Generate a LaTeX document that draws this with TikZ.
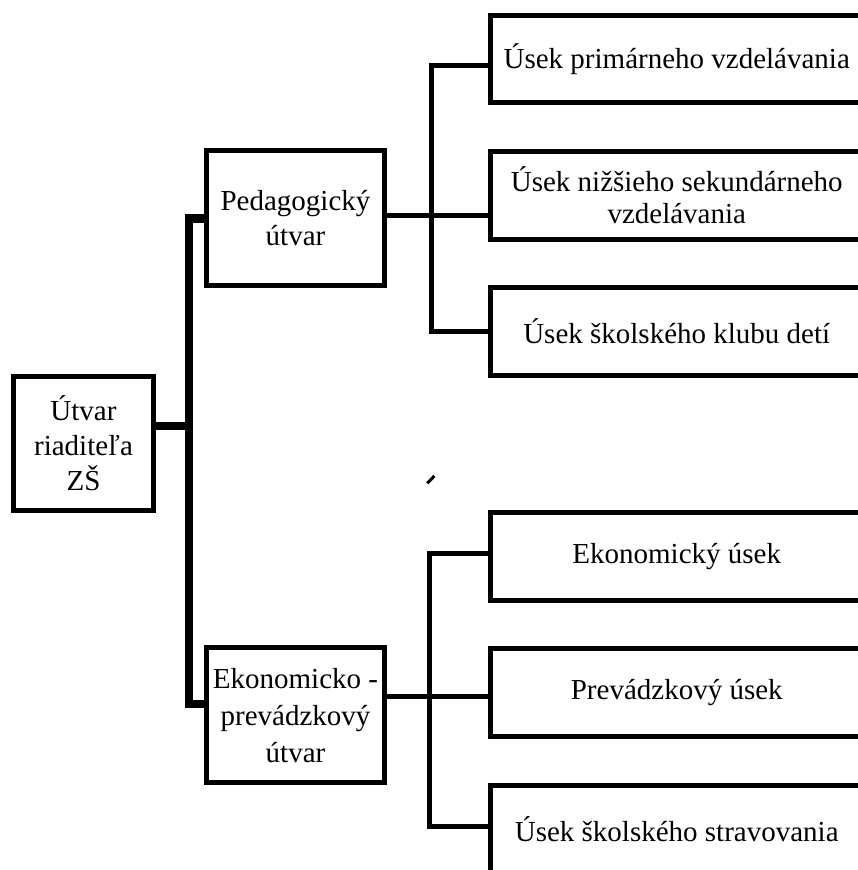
\documentclass[tikz,border=0pt]{standalone}
\usepackage{fontspec}
\setmainfont{Liberation Serif}
\usetikzlibrary{calc}
\begin{document}
\begin{tikzpicture}[x=1pt,y=-1pt,
  box/.style={draw, line width=5pt, inner sep=0pt, align=center, font=\fontsize{29}{35}\selectfont},
  sbox/.style={box, minimum width=372.5pt, minimum height=87.5pt},
  mbox/.style={box, minimum width=178pt, minimum height=135pt},
  conn/.style={line width=5pt},
  trunkline/.style={line width=8.5pt}]
\useasboundingbox (0,0) rectangle (857,870);
% boxes
\node[box, minimum width=140pt, minimum height=134pt] (root) at (83.5,443.5) {Útvar\\riaditeľa\\ZŠ};
\node[mbox] (ped) at (295.5,218.3) {Pedagogický\\útvar};
\node[mbox, font=\fontsize{29}{37}\selectfont] (ek) at (295.5,715.3) {Ekonomicko -\\prevádzkový\\útvar};
\node[sbox] (b1) at (676.75,58.75) {Úsek primárneho vzdelávania};
\node[sbox, font=\fontsize{29}{32}\selectfont] (b2) at (676.75,195.25) {Úsek nižšieho sekundárneho\\vzdelávania};
\node[sbox] (b3) at (676.75,331.5) {Úsek školského klubu detí};
\node[sbox] (b4) at (676.75,556.5) {Ekonomický úsek};
\node[sbox] (b5) at (676.75,692.25) {Prevádzkový úsek};
\node[sbox] (b6) at (676.75,829) {Úsek školského stravovania};
% helper coordinates
\coordinate (tk) at (189,0);
\coordinate (ub) at (431.5,0);
\coordinate (lb) at (429.5,0);
\coordinate (rj) at ([yshift=17.5pt]root.east);
\coordinate (ew) at ([yshift=11.25pt]ek.west);
\coordinate (pe) at ([yshift=2.8pt]ped.east);
\coordinate (ee) at ([yshift=19.25pt]ek.east);
\coordinate (b1w) at ([yshift=-6.75pt]b1.west);
\coordinate (b4w) at ([yshift=3pt]b4.west);
\coordinate (b6w) at ([yshift=3pt]b6.west);
% trunk
\draw[trunkline] (ped.west) -| (tk |- ew) -- (ew);
\draw[trunkline] (rj) -- (rj -| tk);
% upper branch
\draw[conn] (b1w) -| (ub |- b3.west) -- (b3.west);
\draw[conn] (pe) -- (pe -| b2.west);
% lower branch
\draw[conn] (b4w) -| (lb |- b6w) -- (b6w);
\draw[conn] (ee) -- (ee -| b5.west);
% stray mark
\draw[line width=3pt] (427.3,483.3) -- (434.3,476);
\end{tikzpicture}
\end{document}
